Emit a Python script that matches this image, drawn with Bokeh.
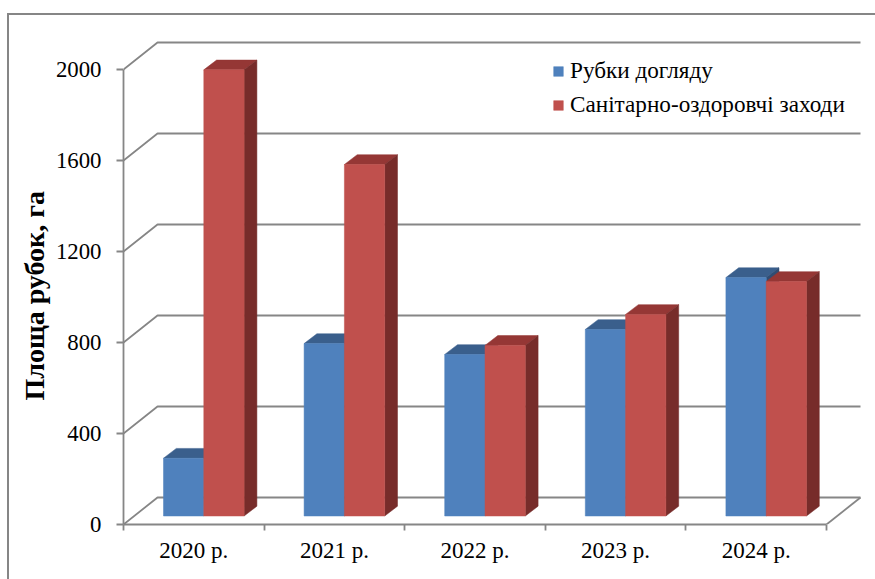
from bokeh.plotting import figure
from bokeh.embed import file_html
from bokeh.resources import INLINE
from bokeh.models import FixedTicker, Legend, LegendItem, Title, InlineStyleSheet

years = ["2020 р.", "2021 р.", "2022 р.", "2023 р.", "2024 р."]
rubky = [254, 758, 710, 820, 1048]
sanit = [1961, 1545, 750, 886, 1031]
y_ticks = [0, 400, 800, 1200, 1600, 2000]
series_names = ["Рубки догляду", "Санітарно-оздоровчі заходи"]
y_title = "Площа рубок, га"

GRAY = "#868686"
SERIF = "Liberation Serif"
W, H = 875, 579
LEFT, BOTTOM = 123, 55
CAT_PX = 140.6          # pixels per category
VAL_PX = 0.2275         # pixels per value unit

def dx(px):
    return px / CAT_PX

def dy(px):
    return px / VAL_PX

p = figure(width=W, height=H, output_backend="svg", toolbar_location=None,
           x_range=(0, (W - LEFT) / CAT_PX), y_range=(0, (H - BOTTOM) / VAL_PX),
           min_border_left=LEFT, min_border_bottom=BOTTOM, min_border_top=0, min_border_right=0,
           outline_line_color=None, background_fill_color="white", border_fill_color="white")
p.grid.visible = False

# outer chart border (top and left edges only, the rest runs off the page)
p.stylesheets = [InlineStyleSheet(css=f""":host::after {{
  content: ""; position: absolute; left: 6.5px; top: 12.5px; right: -4px; bottom: -4px;
  border-left: 2px solid {GRAY}; border-top: 2px solid {GRAY};
  pointer-events: none; z-index: 5;
}}""")]

# walls
wall_x, wall_y = dx(34), dy(27)
right_x = len(years)
for v in y_ticks:
    p.line([0, wall_x, right_x + wall_x], [v, v + wall_y, v + wall_y], line_color=GRAY, line_width=1.8)
p.line([right_x, right_x + wall_x], [0, wall_y], line_color=GRAY, line_width=1.8)

# bars
off_y = dy(8.5)
bar_w = 40.3 / CAT_PX
shift = dx(10.0)
side_x, side_y = dx(12.8), dy(9.8)

def boxes(values, first):
    left = [i + 0.5 + shift - bar_w + first * bar_w for i in range(len(values))]
    right = [l + bar_w for l in left]
    front_xs = [[l, r, r, l] for l, r in zip(left, right)]
    front_ys = [[off_y, off_y, v + off_y, v + off_y] for v in values]
    top_xs = [[l, r, r + side_x, l + side_x] for l, r in zip(left, right)]
    top_ys = [[v + off_y, v + off_y, v + off_y + side_y, v + off_y + side_y] for v in values]
    side_xs = [[r, r + side_x, r + side_x, r] for r in right]
    side_ys = [[off_y, off_y + side_y, v + off_y + side_y, v + off_y] for v in values]
    return front_xs, front_ys, top_xs, top_ys, side_xs, side_ys

fronts = []
for values, first, cf, ct, cs in [(rubky, 0, "#4f81bd", "#3a5f8c", "#2f4d74"),
                                  (sanit, 1, "#c0504d", "#953735", "#772c2a")]:
    fx, fy, tx, ty, sx, sy = boxes(values, first)
    p.patches(tx, ty, fill_color=ct, line_color=ct, line_width=0.5)
    p.patches(sx, sy, fill_color=cs, line_color=cs, line_width=0.5)
    fronts.append(p.patches(fx, fy, fill_color=cf, line_color=cf, line_width=0.5))

# axes
ax = p.xaxis[0]
ax.bounds = (0, len(years))
ax.ticker = FixedTicker(ticks=[i + 0.5 for i in range(len(years))],
                        minor_ticks=list(range(len(years) + 1)))
ax.major_label_overrides = {i + 0.5: y for i, y in enumerate(years)}
ax.axis_line_color = GRAY
ax.axis_line_width = 1.8
ax.major_tick_line_color = None
ax.major_tick_out = 0
ax.major_tick_in = 0
ax.minor_tick_line_color = GRAY
ax.minor_tick_line_width = 1.8
ax.minor_tick_out = 6
ax.minor_tick_in = 0
ax.major_label_standoff = 7
ax.major_label_text_font = SERIF
ax.major_label_text_font_size = "23px"
ax.major_label_text_color = "black"

ay = p.yaxis[0]
ay.bounds = (0, 2000)
ay.ticker = FixedTicker(ticks=y_ticks, minor_ticks=[])
ay.axis_line_color = GRAY
ay.axis_line_width = 1.8
ay.major_tick_line_color = GRAY
ay.major_tick_line_width = 1.8
ay.major_tick_out = 7
ay.major_tick_in = 0
ay.major_label_standoff = 15
ay.major_label_text_font = SERIF
ay.major_label_text_font_size = "22.8px"
ay.major_label_text_color = "black"

p.add_layout(Title(text=y_title, align="left", offset=124, standoff=6, text_font=SERIF,
                   text_font_size="28px", text_font_style="bold", text_color="black"), "left")

legend = Legend(items=[LegendItem(label=n, renderers=[r]) for n, r in zip(series_names, fronts)],
                location=(429, 406), orientation="vertical", border_line_color=None,
                background_fill_alpha=0, label_text_font=SERIF, label_text_font_size="23.2px",
                label_text_color="black", glyph_width=12, glyph_height=12, spacing=7,
                label_standoff=6, padding=0, margin=0, label_height=24)
p.add_layout(legend)

open("out.html", "w").write(file_html(p, INLINE))
